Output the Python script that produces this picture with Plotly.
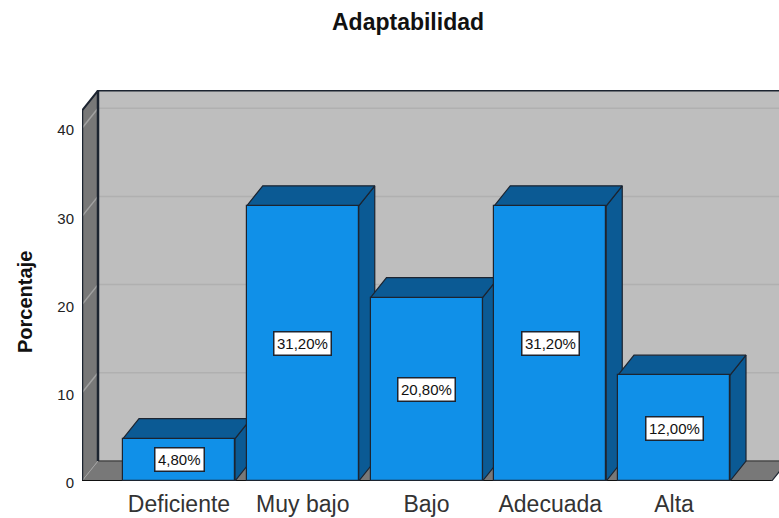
import plotly.graph_objects as go

categories = ["Deficiente", "Muy bajo", "Bajo", "Adecuada", "Alta"]
values = [4.8, 31.2, 20.8, 31.2, 12.0]
value_labels = ["4,80%", "31,20%", "20,80%", "31,20%", "12,00%"]
y_ticks = [0, 10, 20, 30, 40]

W, H = 779, 518
L, R, T, B = 82, 0, 90, 37
PX_PER_CAT = 123.75
PX_PER_UNIT = 8.82
X0_PX = 179
DX = 16 / PX_PER_CAT
DY = 20 / PX_PER_UNIT
HALF = 56 / PX_PER_CAT
BAR_W = 2 * HALF
XMIN = (L - X0_PX) / PX_PER_CAT
XMAX = (W - R - X0_PX) / PX_PER_CAT
YMAX = (H - B - T) / PX_PER_UNIT
WALL_TOP = 42
FLOOR_R = 4.79

DARK = "#1c2430"
WALL = "#bebebe"
SIDE_WALL = "#787878"
FRONT = "#1090e8"
SHADE = "#0b5a94"

fig = go.Figure()


def poly(xs, ys, fill, line=DARK, width=1.2, clip=True):
    fig.add_trace(go.Scatter(x=xs, y=ys, mode="lines", fill="toself", fillcolor=fill,
                             line=dict(color=line, width=width), hoverinfo="skip",
                             showlegend=False, cliponaxis=clip))


def seg(xs, ys, color, width):
    fig.add_trace(go.Scatter(x=xs, y=ys, mode="lines", line=dict(color=color, width=width),
                             hoverinfo="skip", showlegend=False, cliponaxis=False))


# walls
poly([XMIN + DX, FLOOR_R + DX, FLOOR_R + DX, XMIN + DX],
     [DY, DY, WALL_TOP + DY, WALL_TOP + DY], WALL, line=WALL, width=0)
poly([XMIN, XMIN + DX, XMIN + DX, XMIN], [0, DY, WALL_TOP + DY, WALL_TOP], SIDE_WALL, line=SIDE_WALL, width=0)
poly([XMIN, FLOOR_R, FLOOR_R + DX, XMIN + DX], [0, 0, DY, DY], SIDE_WALL, line=SIDE_WALL, width=0)

# grid on both walls
for t in y_ticks[1:]:
    seg([XMIN + DX, FLOOR_R + DX], [t + DY, t + DY], "#b0b0b0", 1.5)
    seg([XMIN, XMIN + DX], [t, t + DY], "#a2a2a2", 1.5)
seg([XMIN, XMIN + DX], [0, DY], "#a2a2a2", 1)

# wall outlines
seg([XMIN + DX, FLOOR_R + DX], [DY, DY], "#4a4a4a", 1.5)
seg([XMIN, XMIN], [0, WALL_TOP], DARK, 2.5)
seg([XMIN + DX, XMIN + DX], [DY, WALL_TOP + DY], DARK, 2.5)
seg([XMIN, XMIN + DX, FLOOR_R + DX], [WALL_TOP, WALL_TOP + DY, WALL_TOP + DY], DARK, 2)
seg([XMIN, FLOOR_R], [0, 0], "#111111", 2)
seg([FLOOR_R, FLOOR_R + DX], [0, DY], DARK, 1.2)

# side and top faces of the bars, computed from the values
for i, v in enumerate(values):
    l, r = i - HALF, i + HALF
    poly([r, r + DX, r + DX, r, r], [0, DY, v + DY, v, 0], SHADE)
    poly([l, l + DX, r + DX, r, l], [v, v + DY, v + DY, v, v], SHADE)

# front faces on an overlaid subplot so that they cover the shaded faces
fig.add_trace(go.Bar(x=list(range(len(values))), y=values, width=BAR_W, xaxis="x2", yaxis="y2",
                     marker=dict(color=FRONT, line=dict(color=DARK, width=1.2)),
                     hoverinfo="skip", showlegend=False))

annotations = [
    dict(x=i, y=v / 2, xref="x", yref="y", text=lab, showarrow=False,
         font=dict(family="Liberation Sans", size=15, color="#111111"),
         bgcolor="white", bordercolor=DARK, borderwidth=1.5, borderpad=2.5)
    for i, (v, lab) in enumerate(zip(values, value_labels))
]
annotations.append(dict(x=(25 - L) / (W - L - R), y=(481 - 302) / (H - B - T), xref="paper", yref="paper",
                        xanchor="center", yanchor="middle",
                        text="<b>Porcentaje</b>", textangle=-90, showarrow=False,
                        font=dict(family="Liberation Sans", size=20, color="#111111")))

fig.update_layout(
    width=W, height=H, autosize=False,
    margin=dict(l=L, r=R, t=T, b=B, pad=0),
    paper_bgcolor="white", plot_bgcolor="white",
    bargap=0,
    title=dict(text="<b>Adaptabilidad</b>", x=408 / W, y=1 - 22 / H, xanchor="center", yanchor="middle",
               font=dict(family="Liberation Sans", size=23, color="#111111")),
    xaxis=dict(range=[XMIN, XMAX], tickmode="array", tickvals=list(range(len(categories))),
               ticktext=categories, showgrid=False, zeroline=False, showline=False,
               ticks="outside", ticklen=2, tickcolor="rgba(0,0,0,0)",
               tickfont=dict(family="Liberation Sans", size=23, color="#333333")),
    yaxis=dict(range=[0, YMAX], tickmode="array", tickvals=y_ticks, showgrid=False, zeroline=False,
               showline=False, ticks="outside", ticklen=4, tickcolor="rgba(0,0,0,0)",
               ticklabelshift=2,
               tickfont=dict(family="Liberation Sans", size=15, color="#222222")),
    xaxis2=dict(range=[XMIN, XMAX], overlaying="x", visible=False, matches="x"),
    yaxis2=dict(range=[0, YMAX], overlaying="y", visible=False, matches="y"),
    annotations=annotations,
)

fig.write_html("out.html", config={"displayModeBar": False},
               post_script="document.body.style.margin='0';")
